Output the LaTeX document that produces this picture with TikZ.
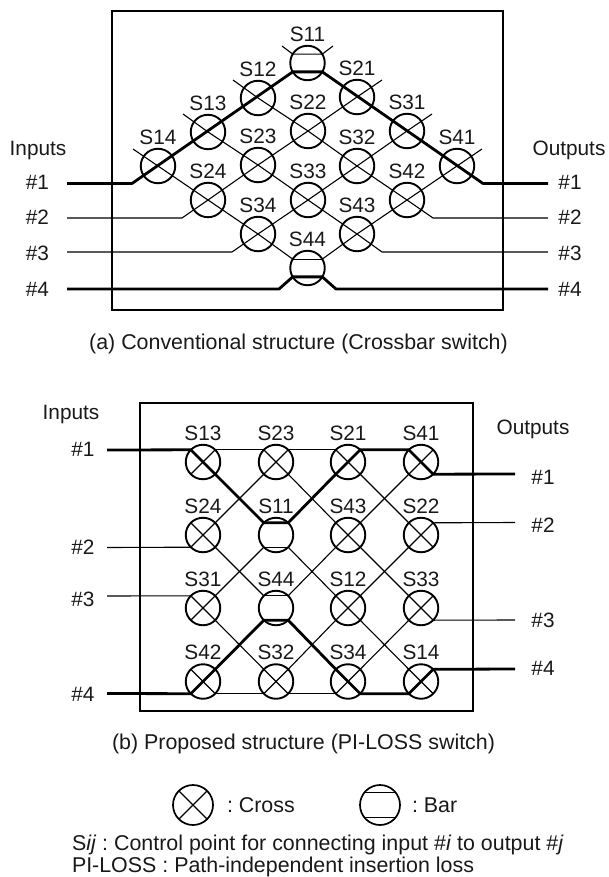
\documentclass[tikz,border=0pt]{standalone}
\usepackage{fontspec}
\setmainfont{Liberation Sans}
\frenchspacing
\tikzset{
  x=1pt,y=-1pt,
  txt/.style={inner sep=0pt,outer sep=0pt,text=black!90,font=\fontsize{20.8}{24}\selectfont},
  captxt/.style={inner sep=0pt,outer sep=0pt,text=black!90,font=\fontsize{21.4}{24}\selectfont},
  lbl/.style={txt,anchor=base west},
  cen/.style={txt,anchor=base},
  thinw/.style={line width=1.1pt,line join=round},
  thickw/.style={line width=2.8pt,line join=round},
  boxa/.style={line width=1.9pt},
  boxb/.style={line width=1.2pt},
  sw/.style={circle,draw,line width=1.9pt,minimum size=34.5pt,inner sep=0pt,outer sep=0pt,
     label={[txt,label distance=4.5pt]above:#1}},
  xsw/.style={sw=#1,path picture={
     \draw[thinw] (path picture bounding box.north west)--(path picture bounding box.south east);
     \draw[thinw] (path picture bounding box.north east)--(path picture bounding box.south west);}},
}
\begin{document}
\begin{tikzpicture}
\useasboundingbox (0,0) rectangle (608,877);
% ---------- (a)
\node[draw,boxa,minimum width=391pt,minimum height=299pt,inner sep=0pt,outer sep=0pt,anchor=north west] (framea) at (112,11) {};
\foreach \x/\y/\n in {158/166/S14,208/132/S13,258/98/S12,357/97/S21,407/131/S31,457/166/S41,
  308/131/S22,258/165/S23,357/166/S32,208/200/S24,308/200/S33,407/200/S42,258/234/S34,357/234/S43}
  \node[sw=\n] (a\n) at (\x,\y) {};
\node[sw=S11] (aS11) at (307.5,63) {};
\node[sw=S44] (aS44) at (307.5,268) {};
\coordinate (ain1) at (67,183.5); \coordinate (ak1) at (132,183.5);
\coordinate (ain2) at (67,218);   \coordinate (ak2) at (182,218);
\coordinate (ain3) at (67,252);   \coordinate (ak3) at (232,252);
\coordinate (ain4) at (67,289);   \coordinate (ak4) at (279,289);
\coordinate (aout1) at (548,183.5); \coordinate (am1) at (483,183.5);
\coordinate (aout2) at (548,218);   \coordinate (am2) at (433,218);
\coordinate (aout3) at (548,252);   \coordinate (am3) at (382,252);
\coordinate (aout4) at (548,289);   \coordinate (am4) at (336,289);
\coordinate (ae14) at (133,149); \coordinate (ae13) at (183,114); \coordinate (ae12) at (233,80);
\coordinate (ae11l) at (282,46); \coordinate (ae11r) at (333,46);
\coordinate (ae21) at (382,80); \coordinate (ae31) at (432,114); \coordinate (ae41) at (482,149);
\draw[thinw] (ain2)--(ak2)--(aS24.center)--(aS23.center)--(aS22.center)--(aS21.center)--(ae21);
\draw[thinw] (ain3)--(ak3)--(aS34.center)--(aS33.center)--(aS32.center)--(aS31.center)--(ae31);
\draw[thinw] (aS44.149)--(aS34.center)--(aS24.center)--(aS14.center)--(ae14);
\draw[thinw] (aS44.31)--(aS43.center)--(aS42.center)--(aS41.center)--(ae41);
\draw[thinw] (ae13)--(aS13.center)--(aS23.center)--(aS33.center)--(aS43.center)--(am3)--(aout3);
\draw[thinw] (ae12)--(aS12.center)--(aS22.center)--(aS32.center)--(aS42.center)--(am2)--(aout2);
\draw[thinw] (ae11l)--(aS11.149)--(aS11.31)--(ae11r);
\draw[thinw] (aS44.149)--(aS44.31);
\draw[thickw] (ain1)--(ak1)--(aS11.211)--(aS11.329)--(am1)--(aout1);
\draw[thickw] (ain4)--(ak4)--(aS44.211)--(aS44.329)--(am4)--(aout4);
\node[lbl,anchor=base] (aInputs) at (38,156) {Inputs};
\node[lbl,anchor=base] (aOutputs) at (569,156) {Outputs};
\foreach \y/\t/\n in {190/\#1/1,225/\#2/2,260/\#3/3,296/\#4/4}{
  \node[cen] (al\n) at (37.5,\y) {\t};
  \node[cen] (ar\n) at (570,\y) {\t};
}
\node[captxt,anchor=base] (capa) at (298.5,349) {(a) Conventional structure (Crossbar switch)};
% ---------- (b)
\node[draw,boxb,minimum width=333pt,minimum height=308pt,inner sep=0pt,outer sep=0pt,anchor=north west] (frameb) at (140,403) {};
\foreach \x/\y/\n in {203/462/S13,276/462/S23,348/462/S21,421/462/S41,
  203/535/S24,348/535/S43,421/535/S22,
  203/608/S31,348/608/S12,421/608/S33,
  203/681.5/S42,276/681.5/S32,348/681.5/S34,421/681.5/S14}
  \node[xsw=\n] (b\n) at (\x,\y) {};
\node[sw=S11] (bS11) at (276,535) {};
\node[sw=S44] (bS44) at (276,608) {};
\coordinate (bin1) at (107,450); \coordinate (bin2) at (107,547.5);
\coordinate (bin3) at (107,596);   \coordinate (bin4) at (107,693.5);
\coordinate (bout1) at (515,474);  \coordinate (bout2) at (515,522.5);
\coordinate (bout3) at (515,620);  \coordinate (bout4) at (515,669);
% thin
\draw[thinw] (bS13.45)--(bS23.135);
\draw[thinw] (bS23.45)--(bS21.135);
\draw[thinw] (bS23.225)--(bS24.45);
\draw[thinw] (bS23.-45)--(bS43.135);
\draw[thinw] (bS21.-45)--(bS22.135);
\draw[thinw] (bS41.225)--(bS43.45);
\draw[thinw] (bin2)--(bS24.225);
\draw[thinw] (bS24.-45)--(bS44.135);
\draw[thinw] (bS11.225)--(bS11.-45);
\draw[thinw] (bS11.225)--(bS31.45);
\draw[thinw] (bS11.-45)--(bS12.135);
\draw[thinw] (bS43.225)--(bS44.45);
\draw[thinw] (bS43.-45)--(bS33.135);
\draw[thinw] (bS22.225)--(bS12.45);
\draw[thinw] (bS22.45)--(bout2);
\draw[thinw] (bin3)--(bS31.135);
\draw[thinw] (bS31.-45)--(bS32.135);
\draw[thinw] (bS44.135)--(bS44.45);
\draw[thinw] (bS12.225)--(bS32.45);
\draw[thinw] (bS12.-45)--(bS14.135);
\draw[thinw] (bS33.225)--(bS34.45);
\draw[thinw] (bS33.-45)--(bout3);
\draw[thinw] (bS42.-45)--(bS32.225);
\draw[thinw] (bS32.-45)--(bS34.225);
% thick
\draw[thickw] (bin1)--(bS13.135)--(bS13.-45)--(bS11.135)--(bS11.45)--(bS21.225)--(bS21.45)--(bS41.135)--(bS41.-45)--(bout1);
\draw[thickw] (bin4)--(bS42.225)--(bS42.45)--(bS44.225)--(bS44.-45)--(bS34.135)--(bS34.-45)--(bS14.225)--(bS14.45)--(bout4);
\node[cen] (bInputs) at (71,419) {Inputs};
\node[cen] (bOutputs) at (533,434) {Outputs};
\node[cen] (bl1) at (83,456) {\#1};
\node[cen] (bl2) at (83,554) {\#2};
\node[cen] (bl3) at (83,606) {\#3};
\node[cen] (bl4) at (83,701) {\#4};
\node[cen] (br1) at (543,484) {\#1};
\node[cen] (br2) at (543,532) {\#2};
\node[cen] (br3) at (543,627) {\#3};
\node[cen] (br4) at (543,675) {\#4};
\node[captxt,anchor=base] (capb) at (303.5,749) {(b) Proposed structure (PI-LOSS switch)};
% ---------- legend
\node[circle,draw,line width=1.7pt,minimum size=40pt,inner sep=0pt,outer sep=0pt,path picture={
  \draw[thinw] (path picture bounding box.north west)--(path picture bounding box.south east);
  \draw[thinw] (path picture bounding box.north east)--(path picture bounding box.south west);}] (lcross) at (193,805) {};
\node[circle,draw,line width=1.7pt,minimum size=40pt,inner sep=0pt,outer sep=0pt] (lbar) at (380,805) {};
\draw[thinw] (lbar.140)--(lbar.40);
\draw[thinw] (lbar.220)--(lbar.-40);
\node[captxt,anchor=base west] (lc) at (227,812) {: Cross};
\node[captxt,anchor=base west] (lb) at (412,812) {: Bar};
\node[captxt,anchor=base west] (n1) at (72,850) {S\textit{ij} : Control point for connecting input \#\textit{i} to output \#\textit{j}};
\node[captxt,anchor=base west] (n2) at (72,872.5) {PI-LOSS : Path-independent insertion loss};
\end{tikzpicture}
\end{document}
